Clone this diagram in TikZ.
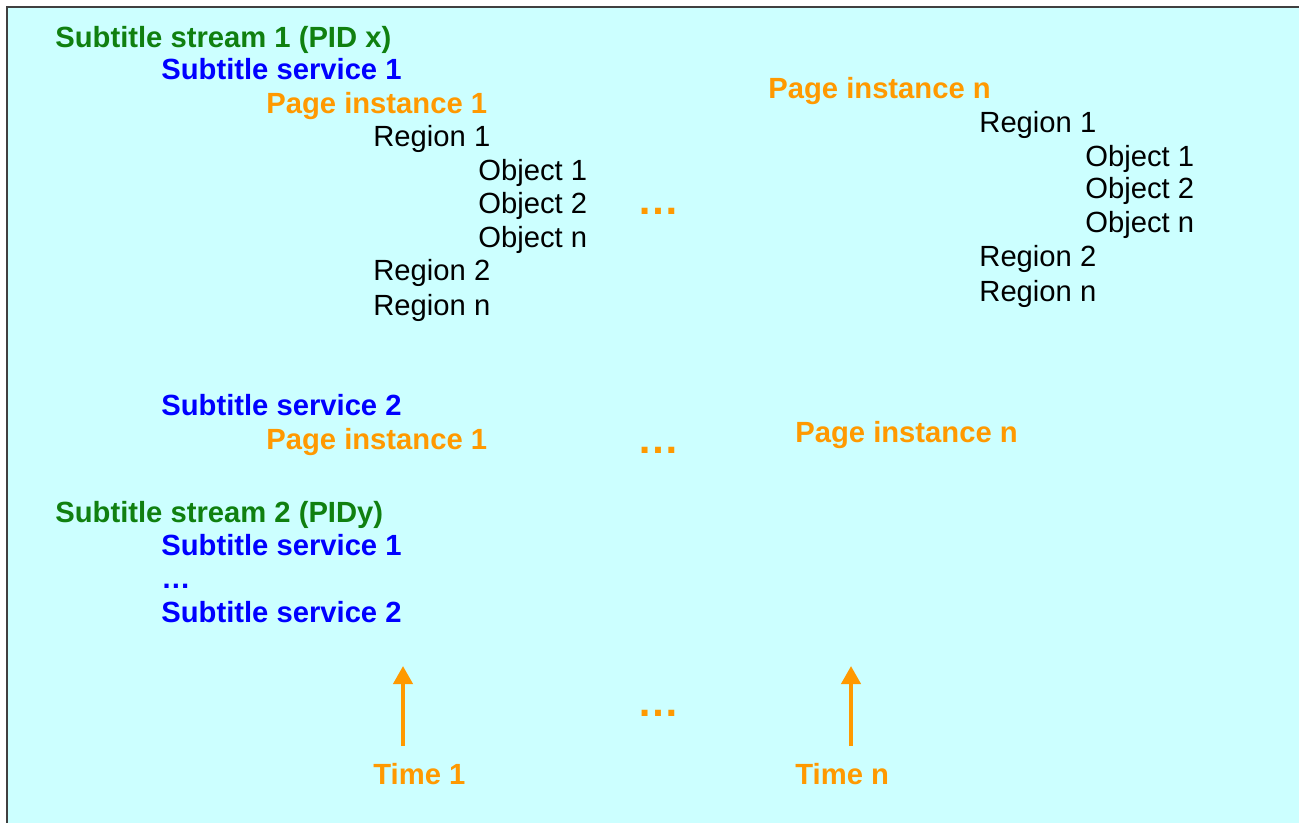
\documentclass[tikz,border=0pt]{standalone}
\usepackage{fontspec}
\setmainfont{Liberation Sans}
\usepackage{tikz}
\usetikzlibrary{arrows.meta}
\definecolor{bgcyan}{RGB}{204,255,255}
\definecolor{strgreen}{RGB}{16,128,16}
\definecolor{srvblue}{RGB}{0,0,255}
\definecolor{pgorange}{RGB}{255,153,0}
\definecolor{framegray}{RGB}{64,64,64}

\begin{document}
\begin{tikzpicture}[x=0.5pt,y=-0.5pt,
    txt/.style={anchor=base west,inner sep=0pt,font=\fontsize{14.6}{17}\selectfont},
    stream/.style={txt,text=strgreen,font=\fontsize{14.6}{17}\selectfont\bfseries},
    service/.style={txt,text=srvblue,font=\fontsize{14.6}{17}\selectfont\bfseries},
    page/.style={txt,text=pgorange,font=\fontsize{14.6}{17}\selectfont\bfseries},
    pagedots/.style={page,font=\fontsize{21}{24}\selectfont\bfseries},
    elem/.style={txt,text=black},
    timearrow/.style={pgorange,line width=2pt,-{Triangle[length=9pt,width=9.5pt]}}]
            \clip (0,0) rectangle (1299,823);
            \draw[framegray,line width=1pt,fill=bgcyan] (7,7) rectangle (1320,840);
            % first stream
            \node[stream] (s1) at (55,48) {Subtitle stream 1 (PID x)};
            \node[service] (s1v1) at (161,80) {Subtitle service 1};
            \node[page] (p1) at (266,114) {Page instance 1};
            \node[elem] (p1r1) at (373,147) {Region 1};
            \node[elem] (p1o1) at (478,181) {Object 1};
            \node[elem] (p1o2) at (478,214) {Object 2};
            \node[elem] (p1on) at (478,248) {Object n};
            \node[elem] (p1r2) at (373,281) {Region 2};
            \node[elem] (p1rn) at (373,315) {Region n};
            \node[pagedots] (dots1) at (637,215) {…};
            \node[page] (pn) at (768,99) {Page instance n};
            \node[elem] (pnr1) at (979,133) {Region 1};
            \node[elem] (pno1) at (1085,167) {Object 1};
            \node[elem] (pno2) at (1085,199) {Object 2};
            \node[elem] (pnon) at (1085,233) {Object n};
            \node[elem] (pnr2) at (979,267) {Region 2};
            \node[elem] (pnrn) at (979,301) {Region n};
            \node[service] (s1v2) at (161,415) {Subtitle service 2};
            \node[page] (q1) at (266,449) {Page instance 1};
            \node[pagedots] (dots2) at (637,453) {…};
            \node[page] (qn) at (795,442) {Page instance n};
            % second stream
            \node[stream] (s2) at (55,522) {Subtitle stream 2 (PIDy)};
            \node[service] (s2v1) at (161,555) {Subtitle service 1};
            \node[service] (s2dots) at (161,588) {…};
            \node[service] (s2v2) at (161,622) {Subtitle service 2};
            % time axis
            \node[page] (time1) at (373,784) {Time 1};
            \node[page] (timen) at (795,784) {Time n};
            \node[pagedots] (dots3) at (637,716) {…};
            \coordinate (t1low) at (403,746);
            \coordinate (t1up) at (403,666);
            \coordinate (tnlow) at (851,746);
            \coordinate (tnup) at (851,666);
            \draw[timearrow] (t1low) -- (t1up);
            \draw[timearrow] (tnlow) -- (tnup);
        \end{tikzpicture}
\end{document}
